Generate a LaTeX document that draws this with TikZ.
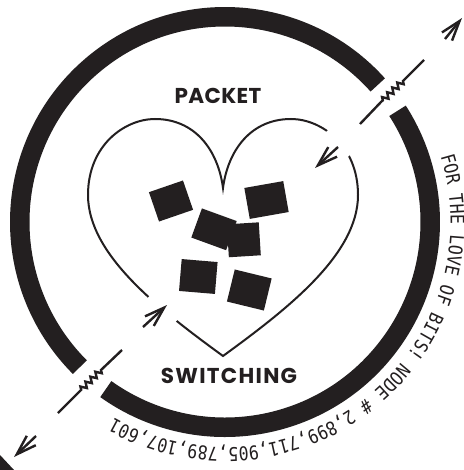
\documentclass[tikz,border=0pt]{standalone}
\usepackage{fontspec}
\newfontfamily\headfont{Poppins}
\newfontfamily\monofont[FakeStretch=0.87]{DejaVu Sans Mono}
\usetikzlibrary{arrows.meta,decorations.pathmorphing,decorations.text}
\definecolor{ink}{RGB}{35,31,32}
\begin{document}
\begin{tikzpicture}[x=1pt,y=1pt,
  ring/.style={draw=ink,line width=19.5pt},
  heartline/.style={draw=ink,line width=2pt},
  wire/.style={draw=ink,line width=2.4pt},
  flow/.style={wire,-{Straight Barb[length=20pt,width=13pt]}},
  pkt/.style={fill=ink,inner sep=0pt,outer sep=0pt},
  title/.style={font=\headfont\bfseries\fontsize{21.5}{21.5}\selectfont,text=ink,inner sep=0pt},
  jag/.style={decoration={zigzag,segment length=7pt,amplitude=2.8pt}}
]
\useasboundingbox (0,0) rectangle (463,-470);
\fill[white] (0,0) rectangle (463,-470);

% outer ring, broken where the link passes
\coordinate (c) at (225,-222);
\draw[ring] (c) ++(41.9:205.25) arc[start angle=41.9,end angle=225,radius=205.25];
\draw[ring] (c) ++(234.5:205.25) arc[start angle=234.5,end angle=392.8,radius=205.25];

% heart, open where the link crosses it
\begin{scope}[even odd rule]
  \clip (0,0) rectangle (463,-470)
    (162.5,-309) circle[radius=18.6] (338,-143.5) circle[radius=16.8];
  \draw[heartline] (223,-356) .. controls (160,-310) and (88,-255) .. (88,-195)
    .. controls (88,-145) and (125,-119) .. (155,-119)
    .. controls (195,-119) and (218,-150) .. (223,-188)
    .. controls (228,-150) and (251,-119) .. (291,-119)
    .. controls (321,-119) and (358,-145) .. (358,-195)
    .. controls (358,-255) and (286,-310) .. (223,-356) -- cycle;
\end{scope}

% packets
\node[pkt,minimum width=36pt,minimum height=31pt,rotate=19] (p1) at (171,-201) {};
\node[pkt,minimum width=39.5pt,minimum height=31.4pt,rotate=10] (p2) at (266.5,-200) {};
\node[pkt,minimum width=37pt,minimum height=31pt,rotate=-20] (p3) at (214,-229.3) {};
\node[pkt,minimum width=32pt,minimum height=33pt,rotate=3.6] (p4) at (243.8,-239.8) {};
\node[pkt,minimum width=36pt,minimum height=32pt,rotate=-4.8] (p5) at (198.3,-276.5) {};
\node[pkt,minimum width=38pt,minimum height=33pt,rotate=-13.7] (p6) at (249.3,-290) {};

% titles
\node[title] (packet) at (218,-96) {\addfontfeatures{LetterSpace=1.5}PACKET};
\node[title] (switching) at (229,-376) {\addfontfeatures{LetterSpace=6}SWITCHING};

% link, upper right
\coordinate (ua) at (445,-39);
\coordinate (ub) at (462,-18);
\coordinate (uc) at (424,-60);
\coordinate (ud) at (403,-81);
\coordinate (ue) at (381,-102);
\coordinate (uf) at (360,-124);
\coordinate (ug) at (338,-147);
\coordinate (uh) at (315,-168);
\draw[flow] (ua) -- (ub);
\draw[wire] (uc) -- (ud) decorate[jag] {-- (ue)} -- (uf);
\draw[flow] (ug) -- (uh);

% link, lower left
\coordinate (la) at (143,-327);
\coordinate (lb) at (167,-305);
\coordinate (lc) at (122,-350);
\coordinate (ld) at (101,-370);
\coordinate (le) at (80,-391);
\coordinate (lf) at (58,-413);
\coordinate (lg) at (36,-436);
\coordinate (lh) at (14,-457);
\draw[flow] (la) -- (lb);
\draw[wire] (lc) -- (ld) decorate[jag] {-- (le)} -- (lf);
\draw[flow] (lg) -- (lh);

% lettering round the ring
\path[decorate,decoration={text along path,text color=ink,text align=left,
  text={|\monofont\fontsize{19}{19}\selectfont|FOR THE LOVE OF BITS! NODE {\#} 2,899,711,905,789,107,601}}]
  (c) ++(17:225.5) arc[start angle=17,end angle=-140,radius=225.5];

% corner wedge
\fill[ink] (0,-455) -- (14,-470) -- (0,-470) -- cycle;
\end{tikzpicture}
\end{document}
